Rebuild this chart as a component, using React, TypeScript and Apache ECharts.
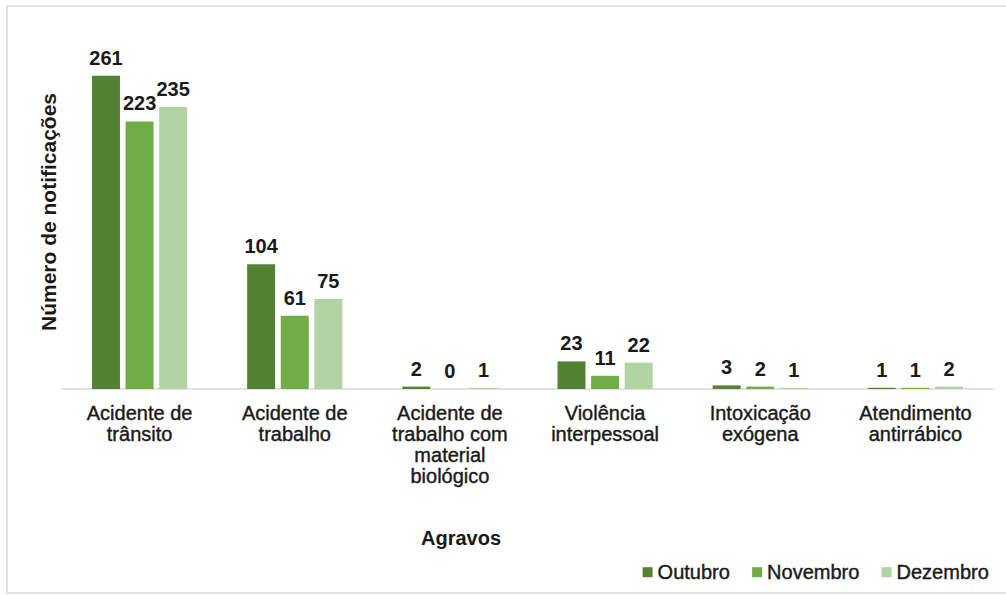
import React, { useEffect, useRef } from "react";
import * as echarts from "echarts";

const categories = [
  "Acidente de\ntrânsito",
  "Acidente de\ntrabalho",
  "Acidente de\ntrabalho com\nmaterial\nbiológico",
  "Violência\ninterpessoal",
  "Intoxicação\nexógena",
  "Atendimento\nantirrábico",
];
const outubro = [261, 104, 2, 23, 3, 1];
const novembro = [223, 61, 0, 11, 2, 1];
const dezembro = [235, 75, 1, 22, 1, 2];
const seriesNames = ["Outubro", "Novembro", "Dezembro"];
const colors = ["#548235", "#70AD47", "#B2D3A3"];

const FONT = "Liberation Sans, Arial, sans-serif";
const INK = "#1a1a1a";

export default function App() {
  const ref = useRef<HTMLDivElement>(null);
  useEffect(() => {
    if (!ref.current) return;
    const chart = echarts.init(ref.current, null, { renderer: "svg" });
    const mk = (name: string, data: number[], color: string) => ({
      name,
      type: "bar",
      data,
      barWidth: 28,
      barGap: "20%",
      itemStyle: { color },
      label: {
        show: true,
        position: "top",
        distance: 8,
        fontFamily: FONT,
        fontSize: 20,
        fontWeight: "bold",
        color: INK,
      },
    });
    chart.setOption({
      animation: false,
      backgroundColor: "#fff",
      textStyle: { fontFamily: FONT },
      grid: { left: 62, right: 13, top: 20, bottom: 206, containLabel: false },
      legend: {
        data: seriesNames,
        right: 12,
        top: 557,
        itemWidth: 10,
        itemHeight: 10,
        itemGap: 22,
        icon: "rect",
        textStyle: {
          fontFamily: FONT,
          fontSize: 20,
          color: INK,
          textBorderColor: INK,
          textBorderWidth: 0.4,
        },
      },
      xAxis: {
        type: "category",
        data: categories,
        axisLine: { lineStyle: { color: "#d9d9d9", width: 1.5 } },
        axisTick: { show: false },
        axisLabel: {
          interval: 0,
          margin: 13,
          fontFamily: FONT,
          fontSize: 20,
          lineHeight: 21,
          color: INK,
          textBorderColor: INK,
          textBorderWidth: 0.4,
        },
      },
      yAxis: {
        type: "value",
        min: 0,
        max: 307.5,
        show: false,
        splitLine: { show: false },
      },
      graphic: [
        {
          type: "rect",
          shape: { x: 7, y: 6, width: 1100, height: 587 },
          style: { fill: "none", stroke: "#d9d9d9", lineWidth: 1.5 },
          silent: true,
        },
        {
          type: "text",
          x: 461,
          y: 538,
          style: {
            text: "Agravos",
            fontFamily: FONT,
            fontSize: 20,
            fontWeight: "bold",
            fill: INK,
            align: "center",
            verticalAlign: "middle",
          },
        },
        {
          type: "text",
          x: 48,
          y: 212,
          rotation: Math.PI / 2,
          style: {
            text: "Número de notificações",
            fontFamily: FONT,
            fontSize: 21,
            fontWeight: "bold",
            fill: INK,
            align: "center",
            verticalAlign: "middle",
          },
        },
      ],
      series: [
        mk(seriesNames[0], outubro, colors[0]),
        mk(seriesNames[1], novembro, colors[1]),
        mk(seriesNames[2], dezembro, colors[2]),
      ],
    });
    return () => chart.dispose();
  }, []);
  return (
    <div
      ref={ref}
      style={{ position: "fixed", left: 0, top: 0, width: 1006, height: 595 }}
    />
  );
}
